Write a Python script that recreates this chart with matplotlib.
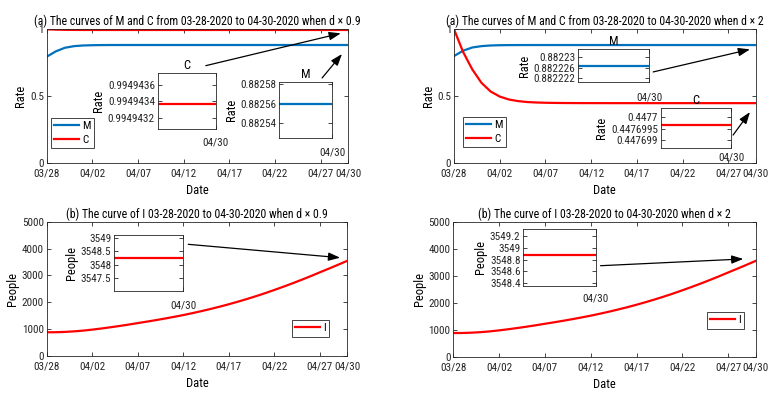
import matplotlib
matplotlib.use('Agg')
import matplotlib.pyplot as plt
from matplotlib import font_manager

# narrow font if there is one (the reference text is squeezed)
have = {f.name for f in font_manager.fontManager.ttflist}
narrow = [n for n in ['Liberation Sans Narrow', 'Arial Narrow', 'DejaVu Sans Condensed',
                      'Roboto Condensed', 'Open Sans Condensed'] if n in have]
if narrow:
    plt.rcParams['font.family'] = [narrow[0], 'DejaVu Sans']
    FS_T, FS_L, FS_K = 8.5, 9, 8
else:
    plt.rcParams['font.family'] = ['Liberation Sans', 'DejaVu Sans']
    plt.rcParams['font.stretch'] = 'condensed'
    FS_T, FS_L, FS_K = 7.5, 8, 7
plt.rcParams['axes.edgecolor'] = '#262626'
plt.rcParams['xtick.color'] = '#262626'
plt.rcParams['ytick.color'] = '#262626'

W, H = 776, 399
BLUE = '#0072BD'
RED = '#FF0000'

######### data (days after 03/28/2020)
days = list(range(34))
tick_days = [0, 5, 10, 15, 20, 25, 30, 33]
tick_labels = ['03/28', '04/02', '04/07', '04/12', '04/17', '04/22', '04/27', '04/30']

M_09 = [0.795, 0.835, 0.862, 0.874, 0.879, 0.881, 0.882, 0.8824, 0.8825, 0.88255,
        0.88256, 0.88256, 0.88256, 0.88256, 0.88256, 0.88256, 0.88256, 0.88256,
        0.88256, 0.88256, 0.88256, 0.88256, 0.88256, 0.88256, 0.88256, 0.88256,
        0.88256, 0.88256, 0.88256, 0.88256, 0.88256, 0.88256, 0.88256, 0.88256]
C_09 = [1.0, 0.9975, 0.9961, 0.9954, 0.9951, 0.9950, 0.99497, 0.99495,
        0.994943, 0.994943, 0.994943, 0.994943, 0.994943, 0.994943, 0.994943,
        0.994943, 0.994943, 0.994943, 0.994943, 0.994943, 0.994943, 0.994943,
        0.994943, 0.994943, 0.994943, 0.994943, 0.994943, 0.994943, 0.994943,
        0.994943, 0.994943, 0.994943, 0.994943, 0.994943]
M_2 = [0.800, 0.840, 0.864, 0.874, 0.879, 0.881, 0.8818, 0.8821, 0.88222,
       0.882227, 0.882227, 0.882227, 0.882227, 0.882227, 0.882227, 0.882227,
       0.882227, 0.882227, 0.882227, 0.882227, 0.882227, 0.882227, 0.882227,
       0.882227, 0.882227, 0.882227, 0.882227, 0.882227, 0.882227, 0.882227,
       0.882227, 0.882227, 0.882227, 0.882227]
C_2 = [1.0, 0.83, 0.70, 0.60, 0.535, 0.497, 0.475, 0.463, 0.456, 0.4525, 0.4505,
       0.4494, 0.4487, 0.4483, 0.4480, 0.4479, 0.4478, 0.4477, 0.4477, 0.4477,
       0.4477, 0.4477, 0.4477, 0.4477, 0.4477, 0.4477, 0.4477, 0.4477, 0.4477,
       0.4477, 0.4477, 0.4477, 0.4477, 0.4477]
I_09 = [876, 878, 890, 910, 938, 975, 1017, 1063, 1112, 1164, 1220, 1274, 1331,
        1391, 1454, 1520, 1592, 1668, 1749, 1834, 1925, 2021, 2122, 2229, 2341,
        2460, 2582, 2709, 2841, 2978, 3120, 3260, 3403, 3548]
I_2 = [876, 878, 890, 910, 938, 975, 1017, 1063, 1112, 1164, 1220, 1274, 1331,
       1391, 1454, 1520, 1592, 1668, 1749, 1834, 1925, 2021, 2122, 2229, 2341,
       2460, 2582, 2709, 2841, 2978, 3120, 3260, 3403, 3549]

# zoomed values on 04/30
zoom_C_09 = 0.99494337
zoom_M_09 = 0.88256
zoom_M_2 = 0.8822268
zoom_C_2 = 0.44769965
zoom_I_09 = 3548.24
zoom_I_2 = 3548.88

zt_C_09 = [0.9949432, 0.9949434, 0.9949436]
zl_C_09 = ['0.9949432', '0.9949434', '0.9949436']
zt_M_09 = [0.88254, 0.88256, 0.88258]
zl_M_09 = ['0.88254', '0.88256', '0.88258']
zt_M_2 = [0.882222, 0.882226, 0.88223]
zl_M_2 = ['0.882222', '0.882226', '0.88223']
zt_C_2 = [0.447699, 0.4476995, 0.4477]
zl_C_2 = ['0.447699', '0.4476995', '0.4477']
zt_I_09 = [3547.5, 3548, 3548.5, 3549]
zl_I_09 = ['3547.5', '3548', '3548.5', '3549']
zt_I_2 = [3548.4, 3548.6, 3548.8, 3549, 3549.2]
zl_I_2 = ['3548.4', '3548.6', '3548.8', '3549', '3549.2']


def px_axes(fig, x0, x1, y0, y1):
    return fig.add_axes([x0 / W, 1 - y1 / H, (x1 - x0) / W, (y1 - y0) / H])


def style_ax(ax):
    ax.tick_params(direction='in', top=True, right=True, length=3, width=0.6,
                   labelsize=FS_K, pad=2)
    for s in ax.spines.values():
        s.set_linewidth(0.6)


def main_ax(fig, x0, x1, y0, y1, title, ylabel):
    ax = px_axes(fig, x0, x1, y0, y1)
    style_ax(ax)
    ax.tick_params(axis='x', pad=4)
    ax.set_xlim(0, 33)
    ax.set_xticks(tick_days)
    ax.set_xticklabels(tick_labels)
    ax.set_title(title, fontsize=FS_T, pad=3)
    ax.set_xlabel('Date', fontsize=FS_L, labelpad=4)
    ax.set_ylabel(ylabel, fontsize=FS_L, labelpad=2)
    return ax


def zoom_ax(fig, box, val, color, ticks, labels, ylabel, title=None, xpad=7):
    ins = px_axes(fig, *box)
    style_ax(ins)
    ins.plot(days[-2:], [val, val], color=color, lw=1.6)
    ins.set_xlim(days[-2], days[-1])
    ins.set_xticks([days[-1]])
    ins.set_xticklabels(['04/30'])
    ins.tick_params(axis='x', pad=xpad)
    ins.set_yticks(ticks)
    ins.set_yticklabels(labels)
    ins.set_ylabel(ylabel, fontsize=FS_L, labelpad=2)
    if title:
        ins.set_title(title, fontsize=FS_L, pad=3)
    return ins


def arrow(ax, tail, head):
    ax.annotate('', xy=head, xytext=tail, xycoords='axes fraction',
                textcoords='axes fraction',
                arrowprops=dict(arrowstyle='-|>,head_length=0.7,head_width=0.25',
                                color='black', lw=0.9, shrinkA=0, shrinkB=0))


def legend(ax, fig, x0, y0):
    lg = ax.legend(loc='upper left', bbox_to_anchor=(x0 / W, 1 - y0 / H),
                   bbox_transform=fig.transFigure, borderaxespad=0,
                   fontsize=FS_K, handlelength=2.2, handletextpad=0.3,
                   borderpad=0.3, labelspacing=0.3, fancybox=False,
                   edgecolor='#262626', framealpha=1)
    lg.get_frame().set_linewidth(0.6)


fig = plt.figure(figsize=(W / 100, H / 100), dpi=100)

######### (a) d x 0.9
ax = main_ax(fig, 46.7, 348, 29.3, 163,
             '(a) The curves of M and C from 03-28-2020 to 04-30-2020 when d \u00d7 0.9', 'Rate')
ax.plot(days, M_09, color=BLUE, lw=1.6, label='M')
ax.plot(days, C_09, color=RED, lw=1.6, label='C')
ax.set_ylim(0, 1)
ax.set_yticks([0, 0.5, 1])
ax.set_yticklabels(['0', '0.5', '1'])
legend(ax, fig, 51, 118)
arrow(ax, (0.528, 0.728), (0.976, 0.970))
arrow(ax, (0.914, 0.636), (0.980, 0.815))
ins = zoom_ax(fig, (157.7, 215.7, 72.7, 129), zoom_C_09, RED, zt_C_09, zl_C_09,
              'Rate', 'C', xpad=6)
ins.set_ylim(0.99494306, 0.99494375)
ins = zoom_ax(fig, (279.3, 332.3, 82.3, 138.3), zoom_M_09, BLUE, zt_M_09, zl_M_09,
              'Rate', 'M', xpad=6.5)
ins.set_ylim(0.8825246, 0.8825821)

######### (a) d x 2
ax = main_ax(fig, 454, 755.7, 29.3, 163,
             '(a) The curves of M and C from 03-28-2020 to 04-30-2020 when d \u00d7 2', 'Rate')
ax.plot(days, M_2, color=BLUE, lw=1.6, label='M')
ax.plot(days, C_2, color=RED, lw=1.6, label='C')
ax.set_ylim(0, 1)
ax.set_yticks([0, 0.5, 1])
ax.set_yticklabels(['0', '0.5', '1'])
legend(ax, fig, 463, 117)
arrow(ax, (0.660, 0.681), (0.981, 0.850))
arrow(ax, (0.925, 0.209), (0.981, 0.381))
ins = zoom_ax(fig, (578.3, 649.3, 49, 82.3), zoom_M_2, BLUE, zt_M_2, zl_M_2,
              'Rate', 'M', xpad=7.4)
ins.set_ylim(0.8822204, 0.8822331)
ins = zoom_ax(fig, (660.7, 731, 107.7, 148.3), zoom_C_2, RED, zt_C_2, zl_C_2,
              'Rate', 'C', xpad=2.8)
ins.set_ylim(0.44769863, 0.44770042)

######### (b) d x 0.9
ax = main_ax(fig, 46.7, 347.3, 222, 355.7,
             '(b) The curve of I 03-28-2020 to 04-30-2020 when d \u00d7 0.9', 'People')
ax.plot(days, I_09, color=RED, lw=1.6, label='I')
ax.set_ylim(0, 5000)
ax.set_yticks([0, 1000, 2000, 3000, 4000, 5000])
legend(ax, fig, 292, 320)
arrow(ax, (0.471, 0.833), (0.976, 0.733))
ins = zoom_ax(fig, (114, 183.3, 235, 291), zoom_I_09, RED, zt_I_09, zl_I_09,
              'People', xpad=7)
ins.set_ylim(3547.04, 3549.1)

######### (b) d x 2
ax = main_ax(fig, 453.3, 755.7, 221.7, 356.7,
             '(b) The curve of I 03-28-2020 to 04-30-2020 when d \u00d7 2', 'People')
ax.plot(days, I_2, color=RED, lw=1.6, label='I')
ax.set_ylim(0, 5000)
ax.set_yticks([0, 1000, 2000, 3000, 4000, 5000])
legend(ax, fig, 707, 312)
arrow(ax, (0.487, 0.674), (0.959, 0.724))
ins = zoom_ax(fig, (523.3, 596, 229, 286), zoom_I_2, RED, zt_I_2, zl_I_2,
              'People', xpad=5.6)
ins.set_ylim(3548.354, 3549.32)

fig.savefig('out.png', dpi=100)
